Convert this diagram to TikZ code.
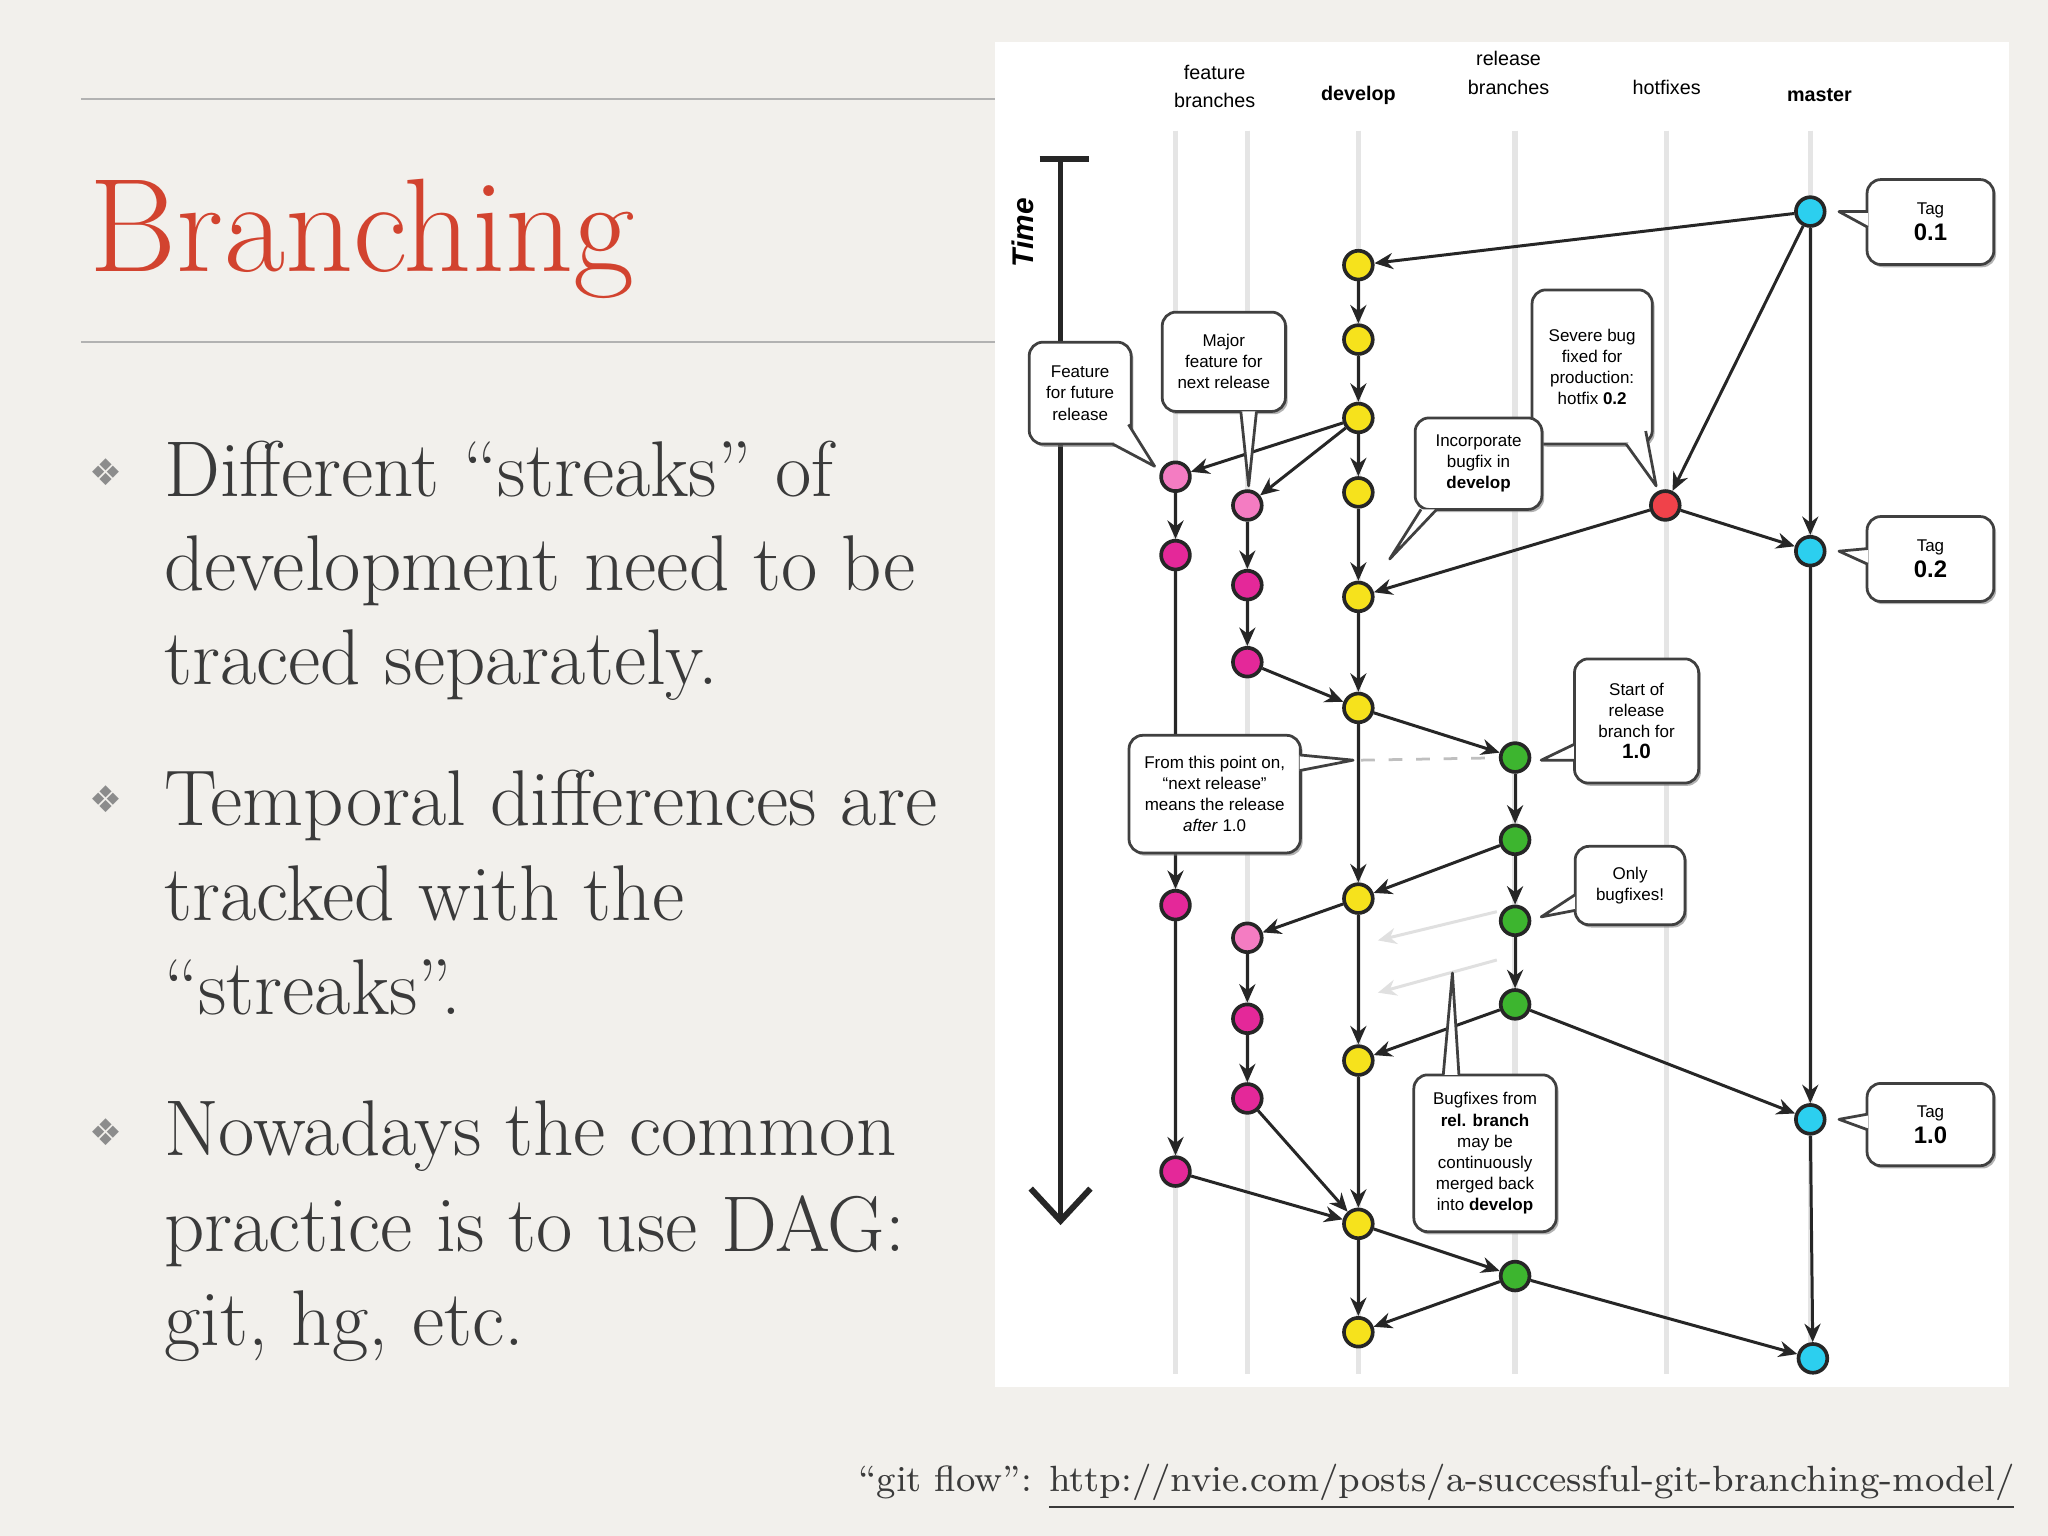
\documentclass[tikz,border=0pt]{standalone}
\usepackage{fontspec}
\newfontfamily\dsans{Liberation Sans}
\newfontfamily\djv{DejaVu Sans}
\usetikzlibrary{arrows.meta,shadows}
\definecolor{bg}{HTML}{F2F0EC}
\definecolor{titlered}{HTML}{D2432F}
\definecolor{txt}{HTML}{3A3A3A}
\definecolor{cyanc}{HTML}{2CCFEF}
\definecolor{yel}{HTML}{F6E21C}
\definecolor{pinkl}{HTML}{F47CC2}
\definecolor{pinkd}{HTML}{E42899}
\definecolor{grn}{HTML}{3DB52F}
\definecolor{redc}{HTML}{F0424A}
\tikzset{
 commit/.style={circle,draw=black!85,line width=0.8pt,minimum size=0.22cm,inner sep=0pt},
 cy/.style={commit,fill=cyanc}, ye/.style={commit,fill=yel}, pl/.style={commit,fill=pinkl},
 pd/.style={commit,fill=pinkd}, gr/.style={commit,fill=grn}, rd/.style={commit,fill=redc},
 edge/.style={draw=black!85,line width=0.65pt,-{Stealth[length=4pt,width=3.5pt]}},
 lane/.style={draw=black!10,line width=1.2pt},
 cbox/.style={draw=black!75,line width=0.6pt,fill=white,rounded corners=3pt,align=center,
   font=\dsans\fontsize{3.7}{4.6}\selectfont,drop shadow={shadow xshift=0.5pt,shadow yshift=-0.6pt,opacity=0.6}},
 hdr/.style={font=\dsans\fontsize{4.3}{6.2}\selectfont,align=center},
 body/.style={anchor=base west,font=\fontsize{17.2}{20}\selectfont,text=txt,inner sep=0pt},
 bul/.style={anchor=base west,font=\djv\fontsize{8}{9}\selectfont,text=black!45,inner sep=0pt}
}
\newcommand\ptr[3]{\fill[white] (#1) -- (#3) -- (#2) -- cycle; \draw[black!75,line width=0.6pt,line join=round] (#1) -- (#3) -- (#2);}
\begin{document}
\begin{tikzpicture}[x=0.01cm,y=-0.01cm]
\fill[bg] (0,0) rectangle (1568,1176);
\useasboundingbox (0,0) rectangle (1568,1176);
% rules
\draw[black!30,line width=0.5pt] (62,76) -- (762,76);
\draw[black!30,line width=0.5pt] (62,262) -- (762,262);
\node[anchor=base west,inner sep=0pt,text=titlered,font=\fontsize{29}{32}\selectfont] (title) at (68,208) {Branching};
% bullets
\node[bul] (b1) at (68,372) {❖};
\node[body] (l1) at (125,380) {Different “streaks” of};
\node[body] (l2) at (125,452) {development need to be};
\node[body] (l3) at (125,524) {traced separately.};
\node[bul] (b2) at (68,622) {❖};
\node[body] (l4) at (125,632) {Temporal differences are};
\node[body] (l5) at (125,705) {tracked with the};
\node[body] (l6) at (125,777) {“streaks”.};
\node[bul] (b3) at (68,877) {❖};
\node[body] (l7) at (125,885) {Nowadays the common};
\node[body] (l8) at (125,958) {practice is to use DAG:};
\node[body] (l9) at (125,1030) {git, hg, etc.};
\node[anchor=base east,inner sep=0pt,text=txt,font=\fontsize{7.95}{10}\selectfont] (cap) at (1543,1142) {“git flow”: \underline{http://nvie.com/posts/a-successful-git-branching-model/}};
% panel
\fill[white] (762,32) rectangle (1538,1062);
\foreach \x in {900,955,1040,1160,1276,1386} \draw[lane] (\x,100) -- (\x,1052);
\node[hdr] (h1t) at (930,66) {feature\\branches};
\node[hdr,font=\dsans\bfseries\fontsize{4.3}{6.2}\selectfont] (h2t) at (1040,73) {develop};
\node[hdr] (h3t) at (1155,56) {release\\branches};
\node[hdr] (h4t) at (1276,67) {hotfixes};
\node[hdr,font=\dsans\bfseries\fontsize{4.3}{6.2}\selectfont] (h5t) at (1393,73) {master};
% time arrow
\coordinate (t0) at (812,122); \coordinate (t1) at (812,938);
\draw[black!85,line width=1.3pt] (796,122) -- (834,122);
\draw[black!85,line width=1.2pt,-{Straight Barb[length=7pt,width=13pt,line width=1.3pt]}] (t0) -- (t1);
\node[rotate=90,font=\dsans\bfseries\itshape\fontsize{6.5}{7}\selectfont] (time) at (783,178) {Time};
% commits
\node[cy] (m1) at (1386,162) {}; \node[cy] (m2) at (1386,422) {};
\node[cy] (m3) at (1386,857) {}; \node[cy] (m4) at (1388,1040) {};
\foreach \n/\y in {1/203,2/260,3/320,4/377,5/457,6/542,7/688,8/812,9/937,10/1020} \node[ye] (d\n) at (1040,\y) {};
\node[pl] (f1) at (900,365) {}; \node[pd] (f2) at (900,425) {};
\node[pd] (f3) at (900,693) {}; \node[pd] (f4) at (900,897) {};
\node[pl] (g1) at (955,387) {}; \node[pd] (g2) at (955,448) {}; \node[pd] (g3) at (955,507) {};
\node[pl] (g4) at (955,718) {}; \node[pd] (g5) at (955,780) {}; \node[pd] (g6) at (955,841) {};
\node[gr] (r1) at (1160,580) {}; \node[gr] (r2) at (1160,643) {}; \node[gr] (r3) at (1160,705) {};
\node[gr] (r4) at (1160,769) {}; \node[gr] (r5) at (1160,977) {};
\node[rd] (hf) at (1275,387) {};
% edges
\foreach \a/\b in {1/2,2/3,3/4,4/5,5/6,6/7,7/8,8/9,9/10} \draw[edge] (d\a) -- (d\b);
\draw[edge] (m1) -- (d1); \draw[edge] (m1) -- (hf); \draw[edge] (m1) -- (m2);
\draw[edge] (hf) -- (m2); \draw[edge] (hf) -- (d5);
\draw[edge] (d3) -- (f1); \draw[edge] (d3) -- (g1);
\draw[edge] (f1) -- (f2); \draw[edge] (f2) -- (f3); \draw[edge] (f3) -- (f4); \draw[edge] (f4) -- (d9);
\draw[edge] (g1) -- (g2); \draw[edge] (g2) -- (g3); \draw[edge] (g3) -- (d6);
\draw[edge] (d7) -- (g4); \draw[edge] (g4) -- (g5); \draw[edge] (g5) -- (g6); \draw[edge] (g6) -- (d9);
\draw[edge] (d6) -- (r1); \draw[edge] (r1) -- (r2); \draw[edge] (r2) -- (r3); \draw[edge] (r3) -- (r4);
\draw[edge] (r2) -- (d7); \draw[edge] (r4) -- (d8); \draw[edge] (r4) -- (m3);
\draw[edge] (m2) -- (m3); \draw[edge] (m3) -- (m4);
\draw[edge] (d9) -- (r5); \draw[edge] (r5) -- (d10); \draw[edge] (r5) -- (m4);
\coordinate (fa1) at (1146,698); \coordinate (fa2) at (1055,720);
\coordinate (fb1) at (1146,735); \coordinate (fb2) at (1055,760);
\draw[edge,draw=black!12] (fa1) -- (fa2); \draw[edge,draw=black!12] (fb1) -- (fb2);
\coordinate (dp) at (1042,582);
\draw[black!25,dashed,line width=0.6pt] (dp) -- (r1);
% callouts
\node[cbox,minimum width=0.97cm,minimum height=0.65cm] (tg1) at (1478,170) {Tag\\[1pt]{\bfseries\fontsize{5.2}{6}\selectfont 0.1}};
\ptr{1430,162}{1430,174}{1408,162}
\node[cbox,minimum width=0.97cm,minimum height=0.65cm] (tg2) at (1478,428) {Tag\\[1pt]{\bfseries\fontsize{5.2}{6}\selectfont 0.2}};
\ptr{1430,420}{1430,432}{1408,422}
\node[cbox,minimum width=0.97cm,minimum height=0.63cm] (tg3) at (1478,861) {Tag\\[1pt]{\bfseries\fontsize{5.2}{6}\selectfont 1.0}};
\ptr{1430,853}{1430,865}{1408,857}
\node[cbox,minimum width=0.78cm,minimum height=0.78cm] (cf) at (827,301) {Feature\\for future\\release};
\ptr{852,340}{864,325}{884,357}
\node[cbox,minimum width=0.93cm,minimum height=0.76cm] (cm) at (937,277) {Major\\feature for\\next release};
\ptr{950,315}{962,315}{956,372}
\node[cbox,minimum width=0.92cm,minimum height=1.18cm] (cs) at (1219,281) {Severe bug\\fixed for\\production:\\hotfix \textbf{0.2}};
\ptr{1245,340}{1260,330}{1268,372}
\node[cbox,minimum width=0.97cm,minimum height=0.70cm] (ci) at (1132,355) {Incorporate\\bugfix in\\\textbf{develop}};
\ptr{1088,390}{1100,390}{1064,428}
\node[cbox,minimum width=0.95cm,minimum height=0.95cm] (cr) at (1253,552) {Start of\\release\\branch for\\{\bfseries\fontsize{4.5}{5}\selectfont 1.0}};
\ptr{1205,570}{1205,582}{1180,582}
\node[cbox,minimum width=1.30cm,minimum height=0.90cm] (cp) at (930,608) {From this point on,\\“next release”\\means the release\\\textit{after} 1.0};
\ptr{995,578}{995,590}{1036,582}
\node[cbox,minimum width=0.84cm,minimum height=0.60cm] (co) at (1248,678) {Only\\bugfixes!};
\ptr{1206,685}{1206,697}{1180,702}
\node[cbox,minimum width=1.09cm,minimum height=1.20cm] (cb) at (1137,883) {Bugfixes from\\\textbf{rel. branch}\\may be\\continuously\\merged back\\into \textbf{develop}};
\ptr{1105,823}{1117,823}{1112,745}
\end{tikzpicture}
\end{document}
